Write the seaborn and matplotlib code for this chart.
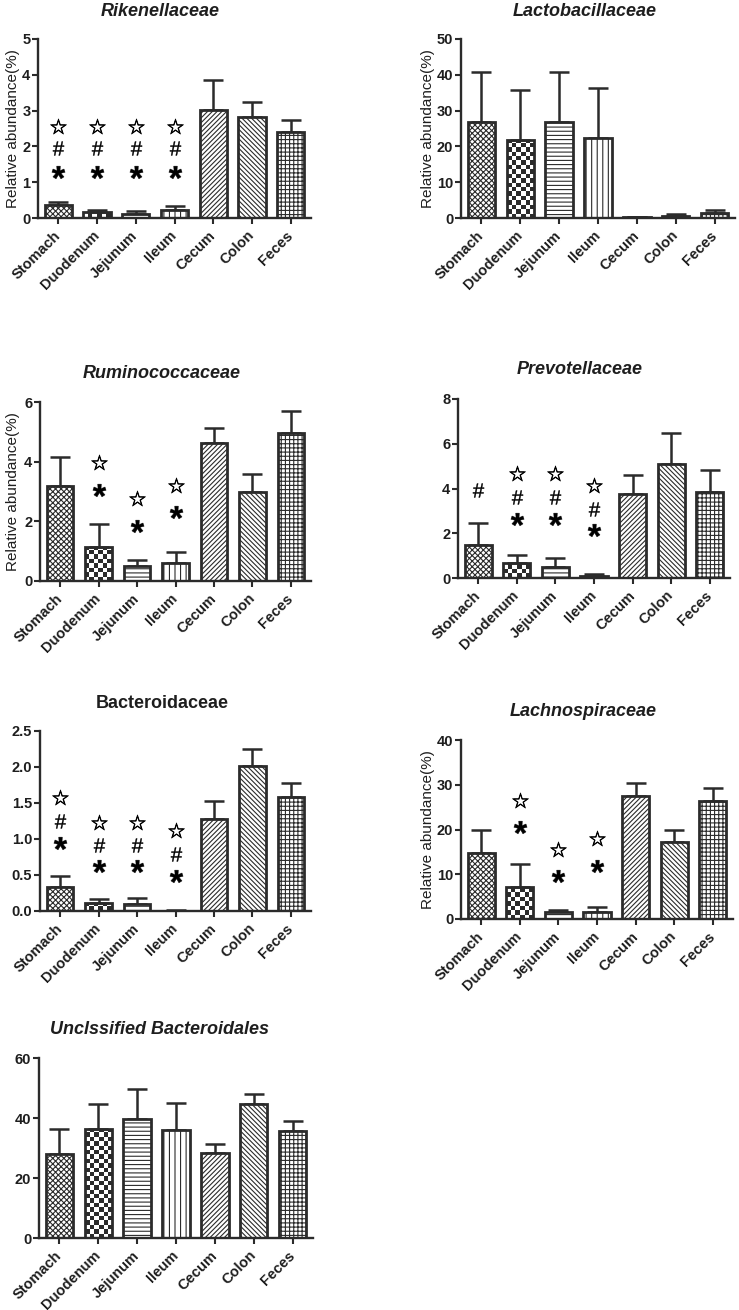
import numpy as np
import pandas as pd
import matplotlib
matplotlib.use("Agg")
import matplotlib.pyplot as plt
from matplotlib.colors import ListedColormap
from matplotlib.textpath import TextPath
from matplotlib.font_manager import FontProperties
from matplotlib.path import Path
import seaborn as sns

# ---------------- data ----------------
categories = ["Stomach", "Duodenum", "Jejunum", "Ileum", "Cecum", "Colon", "Feces"]

rik_mean = [0.36, 0.17, 0.12, 0.22, 3.03, 2.83, 2.40]
rik_sem = [0.10, 0.06, 0.07, 0.12, 0.82, 0.40, 0.33]
rik_star = [(0, 2.57), (1, 2.57), (2, 2.57), (3, 2.57)]
rik_hash = [(0, 1.96), (1, 1.96), (2, 1.96), (3, 1.96)]
rik_ast = [(0, 1.29), (1, 1.29), (2, 1.29), (3, 1.29)]

lac_mean = [26.7, 21.9, 26.7, 22.4, 0.2, 0.65, 1.5]
lac_sem = [14.1, 13.8, 14.0, 14.0, 0.1, 0.6, 0.7]

rum_mean = [3.18, 1.13, 0.51, 0.61, 4.63, 2.98, 4.96]
rum_sem = [0.98, 0.78, 0.19, 0.35, 0.50, 0.62, 0.73]
rum_star = [(1, 3.99), (2, 2.79), (3, 3.23)]
rum_ast = [(1, 3.04), (2, 1.84), (3, 2.32)]

pre_mean = [1.49, 0.69, 0.49, 0.09, 3.77, 5.08, 3.83]
pre_sem = [0.97, 0.35, 0.42, 0.07, 0.83, 1.40, 1.01]
pre_star = [(1, 4.69), (2, 4.69), (3, 4.17)]
pre_hash = [(0, 3.92), (1, 3.62), (2, 3.62), (3, 3.10)]
pre_ast = [(1, 2.62), (2, 2.62), (3, 2.13)]

bac_mean = [0.34, 0.116, 0.10, 0.005, 1.28, 2.01, 1.58]
bac_sem = [0.14, 0.05, 0.076, 0.005, 0.25, 0.24, 0.20]
bac_star = [(0, 1.58), (1, 1.24), (2, 1.24), (3, 1.12)]
bac_hash = [(0, 1.25), (1, 0.92), (2, 0.92), (3, 0.79)]
bac_ast = [(0, 0.95), (1, 0.62), (2, 0.62), (3, 0.49)]

lach_mean = [14.8, 7.1, 1.5, 1.6, 27.5, 17.1, 26.3]
lach_sem = [5.2, 5.2, 0.5, 1.15, 2.8, 2.8, 3.0]
lach_star = [(1, 26.7), (2, 15.6), (3, 18.0)]
lach_ast = [(1, 20.6), (2, 9.6), (3, 11.9)]

unc_mean = [28.1, 36.3, 39.8, 35.9, 28.3, 44.7, 35.7]
unc_sem = [8.3, 8.5, 10.0, 9.1, 3.1, 3.2, 3.3]

# ---------------- style ----------------
sns.set_style("ticks")
plt.rcParams["font.family"] = ["Liberation Sans", "DejaVu Sans"]
plt.rcParams["hatch.linewidth"] = 0.8

EDGE = "#2b2b2b"
TXT = "#1e1e1e"
W, H = 739, 1310
fig = plt.figure(figsize=(W / 100, H / 100), dpi=100)

HATCHES = ["xxxxxx", None, "----", "|||", "///////", "\\\\\\\\\\\\\\", "++++"]


def glyph_marker(ch, family, weight="normal"):
    tp = TextPath((0, 0), ch, size=10, prop=FontProperties(family=family, weight=weight))
    v = tp.vertices.copy()
    codes = tp.codes
    real = codes != Path.CLOSEPOLY
    mn, mx = v[real].min(axis=0), v[real].max(axis=0)
    v = v - (mn + mx) / 2
    v[~real] = 0.0
    return Path(v, codes)


STAR = glyph_marker("\u2606", "DejaVu Sans")
HASH = glyph_marker("#", "Liberation Sans")
AST = glyph_marker("*", "Liberation Sans", "bold")


def add_ax(l, r, t, b):
    return fig.add_axes([l / W, 1 - b / H, (r - l) / W, (b - t) / H])


def panel(box, means, sems, yticks, title, title_xy, italic=True, ylabel_x=None,
          stars=(), hashes=(), asts=(), fmt="{:g}"):
    l, r, t, b = box
    ax = add_ax(l, r, t, b)
    df = pd.DataFrame({"site": categories, "value": means})
    sns.barplot(data=df, x="site", y="value", ax=ax, color="white", width=0.7,
                edgecolor=EDGE, linewidth=2.0, errorbar=None, saturation=1)
    ax.errorbar(np.arange(len(categories)), means,
                yerr=[np.zeros(len(means)), sems], fmt="none", ecolor=EDGE,
                elinewidth=1.8, capsize=7, capthick=1.8, zorder=0.8)
    ax.set_xlim(-0.52, 6.52)
    ax.set_ylim(0, yticks[-1])
    ax.set_yticks(yticks)
    ax.set_yticklabels([fmt.format(v) for v in yticks], fontsize=10.5,
                       fontweight="bold", color=TXT)
    ax.set_xticks(range(len(categories)))
    ax.set_xticklabels(categories, rotation=45, ha="right", va="center",
                       rotation_mode="anchor", fontsize=10.5, fontweight="bold",
                       color=TXT)
    ax.set_xlabel("")
    ax.set_ylabel("")
    for s in ["top", "right"]:
        ax.spines[s].set_visible(False)
    for s in ["left", "bottom"]:
        ax.spines[s].set_linewidth(1.7)
        ax.spines[s].set_color(EDGE)
    ax.tick_params(axis="both", direction="out", length=4, width=1.5, color=EDGE)
    ax.tick_params(axis="x", pad=7)
    ax.tick_params(axis="y", pad=1.5)
    ax.set_facecolor("white")
    ax.grid(False)

    # patterns
    bars = list(ax.patches)
    dx = ax.transData.transform((1, 0))[0] - ax.transData.transform((0, 0))[0]
    dy = ax.transData.transform((0, 1))[1] - ax.transData.transform((0, 0))[1]
    for i, p in enumerate(bars):
        h = HATCHES[i]
        if h is not None:
            p.set_hatch(h)
        else:
            cell = 4.4
            x0, w, hh = p.get_x(), p.get_width(), p.get_height()
            nx = max(1, int(round(w * dx / cell)))
            ny = max(1, int(np.ceil(hh * dy / cell)))
            arr = np.add.outer(np.arange(ny), np.arange(nx)) % 2
            im = ax.imshow(arr, origin="lower", extent=(x0, x0 + w, 0, ny * cell / dy),
                           cmap=ListedColormap(["white", EDGE]), interpolation="nearest",
                           aspect="auto", zorder=0.6)
            im.set_clip_path(p)
            p.set_facecolor("none")
    ax.set_xlim(-0.52, 6.52)
    ax.set_ylim(0, yticks[-1])

    for pts, mk, ms, mew in [(stars, STAR, 11.5, 0.5), (hashes, HASH, 10, 0.3),
                             (asts, AST, 9.5, 0.3)]:
        if len(pts):
            xs = [i for i, _ in pts]
            ys = [y for _, y in pts]
            ax.plot(xs, ys, ls="none", marker=mk, ms=ms, color="black", mew=mew,
                    mec="black", zorder=3, clip_on=False)

    if ylabel_x is not None:
        ax.set_ylabel("Relative abundance(%)", fontsize=11, color=TXT)
        ax.yaxis.set_label_coords((ylabel_x + 8 - l) / (r - l), 0.5)

    fig.text(title_xy[0] / W, 1 - title_xy[1] / H, title, ha="center", va="center",
             fontsize=13, fontweight="bold", fontstyle="italic" if italic else "normal",
             color=TXT)
    return ax


panel((38, 311, 39, 218), rik_mean, rik_sem, [0, 1, 2, 3, 4, 5], "Rikenellaceae",
      (160, 12), ylabel_x=12, stars=rik_star, hashes=rik_hash, asts=rik_ast)
panel((461, 735, 39, 218), lac_mean, lac_sem, [0, 10, 20, 30, 40, 50], "Lactobacillaceae",
      (585, 12), ylabel_x=427)
panel((40, 311, 402, 581), rum_mean, rum_sem, [0, 2, 4, 6], "Ruminococcaceae",
      (162, 373), ylabel_x=12, stars=rum_star, asts=rum_ast)
panel((458, 730, 399, 578), pre_mean, pre_sem, [0, 2, 4, 6, 8], "Prevotellaceae",
      (580, 370), stars=pre_star, hashes=pre_hash, asts=pre_ast)
panel((40, 311, 731, 911), bac_mean, bac_sem, [0.0, 0.5, 1.0, 1.5, 2.0, 2.5],
      "Bacteroidaceae", (162, 703), italic=False, stars=bac_star, hashes=bac_hash,
      asts=bac_ast, fmt="{:.1f}")
panel((461, 733, 740, 919), lach_mean, lach_sem, [0, 10, 20, 30, 40], "Lachnospiraceae",
      (583, 712), ylabel_x=427, stars=lach_star, asts=lach_ast)
panel((39, 313, 1058, 1238), unc_mean, unc_sem, [0, 20, 40, 60],
      "Unclssified Bacteroidales", (160, 1030))

fig.savefig("out.png", dpi=100, facecolor="white")
